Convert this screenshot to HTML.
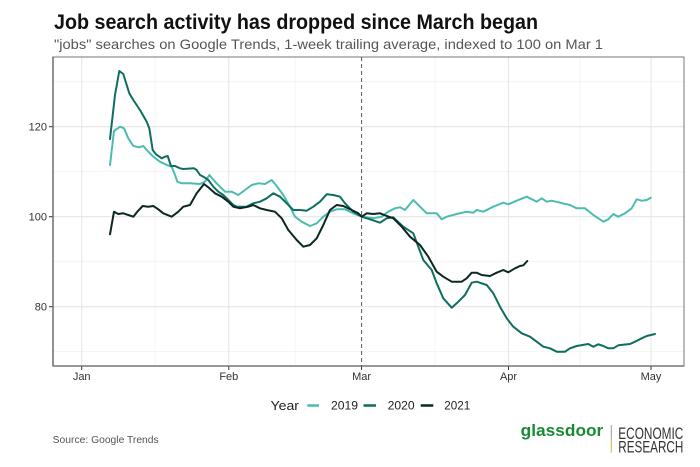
<!DOCTYPE html>
<html>
<head>
<meta charset="utf-8">
<style>
  html,body{margin:0;padding:0;background:#fff;}
  svg{display:block;}
  text{font-family:"Liberation Sans",sans-serif;}
</style>
</head>
<body>
<svg width="700" height="467" viewBox="0 0 700 467" xmlns="http://www.w3.org/2000/svg">
  <rect x="0" y="0" width="700" height="467" fill="#fff"/>

  <!-- Title & subtitle -->
  <text x="54" y="29" font-size="21" font-weight="bold" fill="#111" textLength="484" lengthAdjust="spacingAndGlyphs">Job search activity has dropped since March began</text>
  <text x="54" y="49" font-size="14" fill="#555" textLength="549" lengthAdjust="spacingAndGlyphs">"jobs" searches on Google Trends, 1-week trailing average, indexed to 100 on Mar 1</text>

  <!-- Grid minor -->
  <g stroke="#f2f2f2" stroke-width="0.8">
    <line x1="53" y1="81.7" x2="684" y2="81.7"/>
    <line x1="53" y1="171.7" x2="684" y2="171.7"/>
    <line x1="53" y1="261.7" x2="684" y2="261.7"/>
    <line x1="53" y1="351.7" x2="684" y2="351.7"/>
    <line x1="155.2" y1="57" x2="155.2" y2="366"/>
    <line x1="295.2" y1="57" x2="295.2" y2="366"/>
    <line x1="435.1" y1="57" x2="435.1" y2="366"/>
    <line x1="579.9" y1="57" x2="579.9" y2="366"/>
  </g>
  <!-- Grid major -->
  <g stroke="#e6e6e6" stroke-width="1.1">
    <line x1="53" y1="126.7" x2="684" y2="126.7"/>
    <line x1="53" y1="216.7" x2="684" y2="216.7"/>
    <line x1="53" y1="306.7" x2="684" y2="306.7"/>
    <line x1="81.7" y1="57" x2="81.7" y2="366"/>
    <line x1="228.8" y1="57" x2="228.8" y2="366"/>
    <line x1="508.5" y1="57" x2="508.5" y2="366"/>
    <line x1="651" y1="57" x2="651" y2="366"/>
  </g>

  <!-- Panel border -->
  <rect x="53" y="57" width="631" height="309" fill="none" stroke="#777" stroke-width="1"/>
  <line x1="53" y1="56.5" x2="53" y2="366.5" stroke="#777" stroke-width="1.6"/>
  <line x1="52.5" y1="366" x2="684.5" y2="366" stroke="#777" stroke-width="1.6"/>

  <!-- Dashed March line -->
  <line x1="361.6" y1="57" x2="361.6" y2="366" stroke="#555" stroke-width="1" stroke-dasharray="4,3"/>

  <!-- Ticks -->
  <g stroke="#333" stroke-width="1">
    <line x1="49" y1="126.7" x2="52.5" y2="126.7"/>
    <line x1="49" y1="216.7" x2="52.5" y2="216.7"/>
    <line x1="49" y1="306.7" x2="52.5" y2="306.7"/>
    <line x1="81.7" y1="366.5" x2="81.7" y2="370"/>
    <line x1="228.8" y1="366.5" x2="228.8" y2="370"/>
    <line x1="361.6" y1="366.5" x2="361.6" y2="370"/>
    <line x1="508.5" y1="366.5" x2="508.5" y2="370"/>
    <line x1="651" y1="366.5" x2="651" y2="370"/>
  </g>

  <!-- Tick labels -->
  <g font-size="11" fill="#333">
    <text x="47" y="130.5" text-anchor="end">120</text>
    <text x="47" y="220.5" text-anchor="end">100</text>
    <text x="47" y="310.5" text-anchor="end">80</text>
    <text x="81.7" y="380" text-anchor="middle">Jan</text>
    <text x="228.8" y="380" text-anchor="middle">Feb</text>
    <text x="361.6" y="380" text-anchor="middle">Mar</text>
    <text x="508.5" y="380" text-anchor="middle">Apr</text>
    <text x="651" y="380" text-anchor="middle">May</text>
  </g>

  <!-- Series -->
  <g fill="none" stroke-width="2" stroke-linejoin="round" stroke-linecap="round">
    <polyline stroke="#4cbcb0" points="110,165 114,131 120,126.7 124,128.3 128.3,138.3 133.3,146 139.3,147.3 143.3,146 148.3,151.7 153.3,156.7 160,161.7 166.7,165 171.7,166.7 175,175 177.3,181.7 181.7,183.3 190,183.3 200,184 205,181.7 209.3,175 215,181.7 220,186.7 225,191.7 231.7,191.7 238.3,195 245,190 251.7,185 258.3,183.3 265,184 271.7,180 276.7,186 283.3,195 290,206.7 295,216.7 301.7,221.7 310,226 316.7,223.3 323.3,216.7 330,211.7 336.7,209.3 345,209.3 353.3,213.3 361.7,216.7 373.3,218.3 381.7,216.7 388.3,211.7 395,208.3 400,207.3 405,210 413.3,200 420,206.7 426.7,213.3 436.7,213.3 441.7,219.3 446.7,216.7 456.7,214 466.7,211.7 473.3,212.7 476.7,210 483.3,211.7 493.3,206.7 503.3,202.7 508.3,204.3 516.7,200.7 526.7,196.7 536.7,201.7 541.7,198.3 546.7,201.7 551.7,200.7 560,202.7 570,205 576.7,208.3 585,208.3 593.3,215 598.3,218.3 603.3,221.7 608.3,219.3 613.3,214 618.3,216.7 625,213.3 631.7,208.3 636.7,199.3 641.7,200.7 646.7,200 650.7,197.7"/>
    <polyline stroke="#0e6e5f" points="110,139 115,95 119.3,71 123.3,74 129.3,93.3 133.3,100 140,110 146.7,121.7 149.3,128.3 152.7,150 156,154.3 161.7,158.3 165,156.7 167.7,156 171,166 175,166 180,168.3 183.3,169 194,168.3 196.7,170 200,175 203.3,176.7 208.3,180 213.3,186.7 218.3,191.7 223.3,195 228.3,200 233.3,205 236.7,206.7 246.7,206.7 253.3,203.3 260,201.7 266.7,198.3 273.3,193.3 280,196.7 286.7,203.3 293.3,210 300,210 306.7,210.7 313.3,206.7 320,201.7 326.7,194.3 333.3,195 340,196.7 345,203.3 353.3,211.7 361.7,216.7 370,219.3 380,222.7 386.7,218.3 393.3,217.3 403.3,226.7 413.3,233.3 418.3,246.7 423.3,260 431.7,270 436.7,283.3 443.3,298.3 451.7,307.7 458.3,301.7 465,295 471.7,282.7 476.7,281.7 486.7,285 493.3,293.3 500,306.7 506.7,318.3 513.3,326.7 521.7,333.3 530,336.7 536.7,341.7 543.3,346.7 550,348.3 556.7,351.7 565,351.7 570,348.3 576.7,346 588.3,344 593.3,346.7 598.3,344.3 603.3,346 608.3,348.3 613.3,348.3 618.3,345.3 630,344 635,341.7 641.7,338.3 646.7,336 655,334"/>
    <polyline stroke="#0c2724" points="110,234.3 114,211.7 118.3,214 123.3,213.3 128.3,215 133.3,216.7 137.3,211.7 142.7,206 148.3,206.7 153.3,206 158.3,209.3 163.3,213.3 171.7,216.7 178.3,211.7 183.3,206.7 190,205 196.7,193.3 204,184 208.3,187.3 215,193.3 221.7,196.7 228.3,201.7 233.3,206.7 240,208.3 248.3,206.7 253.3,205 260,208.3 266.7,210 275,211.7 281.7,218.3 288.3,230 296.7,240 303.3,246.7 310,245 316.7,238.3 323.3,225 330,210 336.7,205 343.3,206 351.7,210 358.3,213.3 361.7,216.7 366.7,213.3 373.3,214 380,213.3 386.7,216 393.3,218.3 401.7,226.7 410,236.7 420,245 428.3,256.7 436.7,271.7 443.3,276.7 451.7,281.7 461.7,281.7 466.7,278.3 471.7,272.7 476.7,272.7 481.7,275 490,276 496.7,272.7 503.3,270 508.3,272.3 515,268.3 520,266 523.3,265.3 527.3,261"/>
  </g>

  <!-- Legend -->
  <text x="270.5" y="410" font-size="13" fill="#222" textLength="28.5" lengthAdjust="spacingAndGlyphs">Year</text>
  <line x1="307.3" y1="405.5" x2="319" y2="405.5" stroke="#4cbcb0" stroke-width="2.5"/>
  <text x="331" y="409.5" font-size="12" fill="#222" textLength="27" lengthAdjust="spacingAndGlyphs">2019</text>
  <line x1="363.5" y1="405.5" x2="376" y2="405.5" stroke="#0e6e5f" stroke-width="2.5"/>
  <text x="387.7" y="409.5" font-size="12" fill="#222" textLength="27" lengthAdjust="spacingAndGlyphs">2020</text>
  <line x1="420.7" y1="405.5" x2="433.3" y2="405.5" stroke="#0c2724" stroke-width="2.5"/>
  <text x="444.3" y="409.5" font-size="12" fill="#222" textLength="26" lengthAdjust="spacingAndGlyphs">2021</text>

  <!-- Source -->
  <text x="52.7" y="443" font-size="10" fill="#555" textLength="106" lengthAdjust="spacingAndGlyphs">Source: Google Trends</text>

  <!-- Glassdoor logo -->
  <text x="520.7" y="436" font-size="17" font-weight="bold" fill="#1a8a34" textLength="82.6" lengthAdjust="spacingAndGlyphs">glassdoor</text>
  <line x1="611.3" y1="425" x2="611.3" y2="439" stroke="#9a9a9a" stroke-width="1"/>
  <line x1="611.3" y1="439" x2="611.3" y2="452.7" stroke="#c9b23a" stroke-width="1"/>
  <text x="618.3" y="439" font-size="17" fill="#333" textLength="65" lengthAdjust="spacingAndGlyphs">ECONOMIC</text>
  <text x="618.3" y="452.5" font-size="17" fill="#333" textLength="65" lengthAdjust="spacingAndGlyphs">RESEARCH</text>
</svg>
</body>
</html>
